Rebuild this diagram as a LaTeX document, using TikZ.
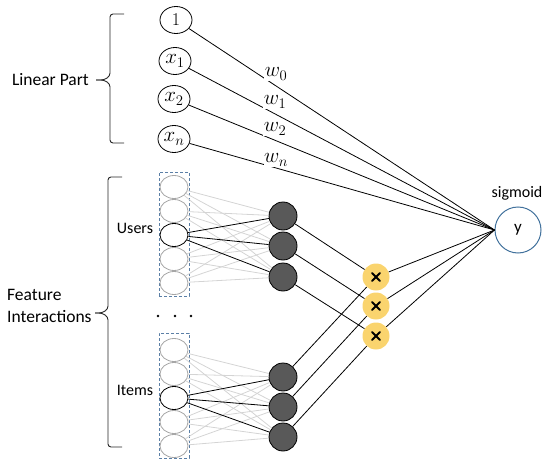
\RequirePackage{fix-cm}
\documentclass[tikz,border=0pt]{standalone}
\usepackage{fontspec}
\setmainfont{Carlito}
\usetikzlibrary{shapes.geometric}
\definecolor{gold}{HTML}{FAD46E}
\definecolor{yblue}{HTML}{41719C}
\definecolor{dblue}{HTML}{5B7FA6}
\definecolor{faintgray}{HTML}{D4D4D4}
\definecolor{hidgray}{HTML}{595959}
\tikzset{
  lin/.style={ellipse, draw, line width=0.8pt, minimum width=32pt, minimum height=27pt, inner sep=0pt, font=\fontsize{21}{23}\selectfont},
  emb/.style={ellipse, draw=black!35, line width=0.8pt, minimum width=28pt, minimum height=23pt, inner sep=0pt},
  embon/.style={emb, draw=black},
  hid/.style={circle, draw, line width=0.8pt, fill=hidgray, minimum size=28pt, inner sep=0pt},
  prod/.style={circle, fill=gold, minimum size=27pt, inner sep=0pt,
    path picture={
      \draw[line width=2pt, line cap=round] ([shift={(-4pt,-4pt)}]path picture bounding box.center) -- ([shift={(4pt,4pt)}]path picture bounding box.center);
      \draw[line width=2pt, line cap=round] ([shift={(-4pt,4pt)}]path picture bounding box.center) -- ([shift={(4pt,-4pt)}]path picture bounding box.center);
    }},
  outn/.style={circle, draw=yblue, line width=1pt, minimum size=46pt, inner sep=0pt, font=\fontsize{17}{19}\selectfont},
  wlab/.style={fill=white, inner sep=0.5pt, font=\fontsize{21}{23}\selectfont},
  edge/.style={line width=0.8pt},
  faint/.style={draw=faintgray, line width=0.8pt},
  embbox/.style={draw=dblue, line width=0.8pt, dash pattern=on 3pt off 2pt, minimum width=30pt, inner sep=0pt},
  bracel/.style={line width=0.9pt, black!85, rounded corners=3pt},
  biglab/.style={font=\fontsize{17.5}{21.5}\selectfont, inner sep=0pt},
  smlab/.style={font=\fontsize{16}{18}\selectfont, inner sep=0pt}
}
\begin{document}
\begin{tikzpicture}[x=1pt,y=-1pt]
\useasboundingbox (0,0) rectangle (550,463);

% braces
\draw[bracel] (124,14) -- (110,14) -- (110,76) -- (104,80) -- (96,80);
\draw[bracel] (96,80) -- (104,80) -- (110,84) -- (110,143) -- (124,143);
\draw[bracel] (122,177) -- (108,177) -- (108,309) -- (102,313) -- (95,313);
\draw[bracel] (95,313) -- (102,313) -- (108,317) -- (108,447) -- (122,447);

\node[biglab, anchor=east] (linlab) at (89,80) {Linear Part};
\node[biglab, anchor=west, align=left] (featlab) at (7,306) {Feature\\Interactions};

% linear part
\node[lin, font=\fontsize{18}{20}\selectfont] (n1) at (176,20) {$1$};
\node[lin] (x1) at (175,61) {$x_1$};
\node[lin] (x2) at (174,99) {$x_2$};
\node[lin] (xn) at (174,139) {$x_n$};

% output
\node[outn] (y) at (518,230) {y};
\node[smlab] (sig) at (517,193) {sigmoid};

% embedding boxes
\node[embbox, minimum height=124pt] (ubox) at (174,234) {};
\node[embbox, minimum height=125pt] (ibox) at (174,395.5) {};

% user fields
\foreach \i/\yy in {1/187,2/211,4/259,5/283} \node[emb] (u\i) at (174,\yy) {};
\node[embon] (u3) at (174,235) {};
\foreach \i/\yy in {1/350,2/374,4/422,5/446} \node[emb] (i\i) at (174,\yy) {};
\node[embon] (i3) at (174,398) {};

\node[smlab] (ulab) at (135,228) {Users};
\node[smlab] (ilab) at (135,390) {Items};

% hidden
\node[hid] (ud1) at (283,216) {};
\node[hid] (ud2) at (283,246) {};
\node[hid] (ud3) at (283,277) {};
\node[hid] (id1) at (283,377) {};
\node[hid] (id2) at (283,407) {};
\node[hid] (id3) at (283,437) {};

% products
\node[prod] (p1) at (376,277) {};
\node[prod] (p2) at (376,306) {};
\node[prod] (p3) at (376,336) {};

% faint embedding edges
\foreach \a in {1,2,4,5}{
  \foreach \b in {1,2,3}{
    \draw[faint] (u\a) -- (ud\b);
    \draw[faint] (i\a) -- (id\b);
  }
}
\foreach \b in {1,2,3}{
  \draw[edge] (u3) -- (ud\b);
  \draw[edge] (i3) -- (id\b);
  \draw[edge] (ud\b) -- (p\b);
  \draw[edge] (id\b) -- (p\b);
  \draw[edge] (p\b) -- (y.west);
}

% dots
\fill (158,316) circle (1.4pt);
\fill (175,316) circle (1.4pt);
\fill (191,316) circle (1.4pt);

% linear edges
\draw[edge] (n1) -- (y.west);
\draw[edge] (x1) -- (y.west);
\draw[edge] (x2) -- (y.west);
\draw[edge] (xn) -- (y.west);
\node[wlab] (w0) at (276,74) {$w_0$};
\node[wlab] (w1) at (275,102) {$w_1$};
\node[wlab] (w2) at (275,129) {$w_2$};
\node[wlab] (wn) at (276,160) {$w_n$};
\end{tikzpicture}
\end{document}
